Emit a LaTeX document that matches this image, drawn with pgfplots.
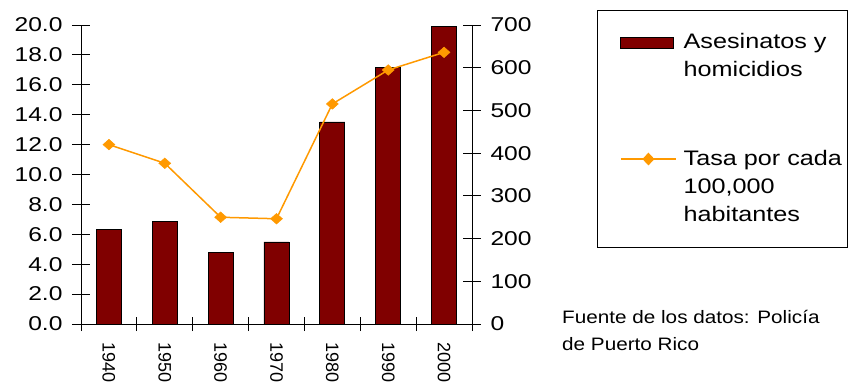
\documentclass[border=0pt]{standalone}
\usepackage{pgfplots}
\pgfplotsset{compat=1.18}
\usepackage{fontspec}
\setmainfont{Liberation Sans}
\newfontfamily\tickfont{Liberation Sans}[FakeStretch=1.23]
\newfontfamily\legfont{Liberation Sans}[FakeStretch=1.2]
\newfontfamily\notefont{Liberation Sans}[FakeStretch=1.15]
\definecolor{barred}{HTML}{800000}
\definecolor{lineorange}{HTML}{FF9900}
\pgfplotsset{
  mylinelegend/.style={legend image code/.code={\draw[##1, yshift=62.4bp, mark repeat=2, mark phase=2, mark options={xscale=1.25}] plot coordinates {(0bp,0bp) (27.5bp,0bp) (55bp,0bp)};}},
  mybarlegend/.style={legend image code/.code={\draw[fill=barred, draw=black, line width=0.9bp] (0bp,28.2bp) rectangle (53bp,39.2bp);}},
}
\begin{document}
\begin{tikzpicture}
\path[use as bounding box] (0,0) rectangle (848bp,383bp);
% bars on the right axis
\begin{axis}[
  at={(81bp,59bp)}, anchor=south west,
  scale only axis, width=391bp, height=299bp,
  xmin=-0.5, xmax=6.5, ymin=0, ymax=700,
  axis y line*=right, axis x line*=bottom,
  axis line style={line width=0.9bp, black, -},
  tick style={line width=0.9bp, black},
  tick align=center,
  major tick length=18bp, minor tick length=14bp,
  xtick={0,1,2,3,4,5,6},
  xticklabels={1940,1950,1960,1970,1980,1990,2000},
  major x tick style={draw=none},
  minor xtick={-0.5,0.5,1.5,2.5,3.5,4.5,5.5,6.5},
  ytick={0,100,200,300,400,500,600,700},
  /pgf/number format/assume math mode=true,
  yticklabel style={font=\tickfont\fontsize{20bp}{24bp}\selectfont, xshift=6bp},
  xticklabel style={rotate=-90, anchor=west, font=\fontsize{18bp}{20bp}\selectfont, xshift=5.7bp},
]
\addplot[ybar, bar width=25bp, fill=barred, draw=black, line width=0.9bp]
  coordinates {(0,222) (1,239) (2,167) (3,192) (4,473) (5,600) (6,697)};
\end{axis}
% rate line on the left axis
\begin{axis}[
  at={(81bp,59bp)}, anchor=south west,
  scale only axis, width=391bp, height=299bp,
  xmin=-0.5, xmax=6.5, ymin=0, ymax=20,
  axis y line*=left, axis x line=none,
  axis line style={line width=0.9bp, black, -},
  tick style={line width=0.9bp, black},
  tick align=center, major tick length=18bp,
  ytick={0,2,4,6,8,10,12,14,16,18,20},
  /pgf/number format/assume math mode=true,
  yticklabel={\pgfmathprintnumber[fixed,fixed zerofill,precision=1]{\tick}},
  yticklabel style={font=\tickfont\fontsize{20bp}{24bp}\selectfont, xshift=-6bp},
  legend style={at={(axis description cs:1.3785,0.9722)}, anchor=north west,
    draw=none, fill=none, inner sep=0pt, column sep=7bp, row sep=72bp,
    font=\legfont\fontsize{21bp}{28bp}\selectfont,
    nodes={inner sep=0pt, align=left},
    cells={anchor=base west}},
]
\addlegendimage{mybarlegend}
\addlegendentry{Asesinatos y\\homicidios}
\addplot[lineorange, line width=1.5bp, mark=diamond*, mark size=5.3bp,
  mark options={xscale=1.5, fill=lineorange, draw=lineorange, line width=0.5bp},
  mylinelegend]
  coordinates {(0,12.0) (1,10.75) (2,7.14) (3,7.04) (4,14.72) (5,16.99) (6,18.17)};
\addlegendentry{Tasa por cada\\100,000\\habitantes}
\end{axis}
\draw[line width=0.9bp] (597bp,136bp) rectangle (847bp,373bp);
\node[anchor=base west, align=left, inner sep=0pt, font=\notefont\fontsize{18bp}{27bp}\selectfont] at (562bp,33bp) {Fuente de los datos: Policía\\de Puerto Rico};
\end{tikzpicture}
\end{document}
